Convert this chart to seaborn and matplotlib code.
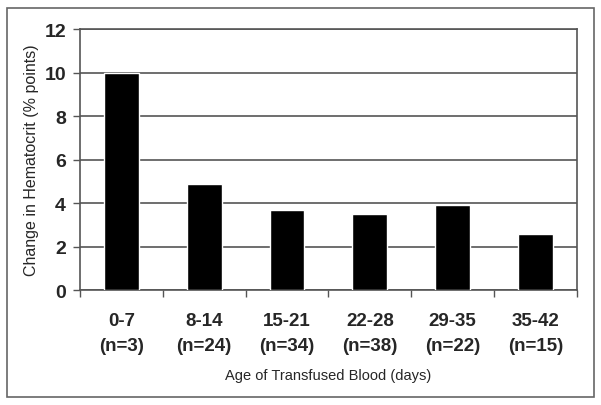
import numpy as np
import pandas as pd
import matplotlib
matplotlib.use("Agg")
import matplotlib.pyplot as plt
import seaborn as sns
from matplotlib.patches import Rectangle

age_groups = ["0-7", "8-14", "15-21", "22-28", "29-35", "35-42"]
n_counts = [3, 24, 34, 38, 22, 15]
hct_change = [10.0, 4.9, 3.7, 3.5, 3.9, 2.6]

labels = [f"{a}\n(n={n})" for a, n in zip(age_groups, n_counts)]
df = pd.DataFrame({"age": labels, "change": hct_change})

sns.set_style("white")
plt.rcParams['font.family'] = ['Liberation Sans', 'DejaVu Sans']

fig = plt.figure(figsize=(6.01, 4.06), dpi=100)
ax = fig.add_axes([0.133, 0.283, 0.827, 0.643])

sns.barplot(data=df, x="age", y="change", color="black", width=0.42,
            saturation=1, ax=ax, zorder=3)

ax.set_ylim(0, 12)
ax.set_xlim(-0.5, len(labels) - 0.5)
ax.set_yticks(range(0, 13, 2))
ax.yaxis.grid(True, color="#555555", linewidth=1.2, zorder=0)
ax.set_axisbelow(True)

# ticks between the categories
ax.set_xticks(np.arange(-0.5, len(labels), 1.0))
ax.set_xticklabels([])
ax.set_xticks(range(len(labels)), minor=True)
ax.set_xticklabels(labels, minor=True, fontsize=13.5, fontweight="bold",
                   linespacing=1.6)
ax.tick_params(axis="x", which="minor", length=0, pad=16)
ax.tick_params(axis="x", which="major", length=5, width=1, color="#555555",
               direction="out", bottom=True)
ax.tick_params(axis="y", length=5, width=1, color="#555555", left=True,
               labelsize=14, pad=5)
for t in ax.get_yticklabels():
    t.set_fontweight("bold")

for side in ["left", "right", "top", "bottom"]:
    ax.spines[side].set_visible(True)
    ax.spines[side].set_color("#555555")
    ax.spines[side].set_linewidth(1.2)

ax.set_xlabel("Age of Transfused Blood (days)", fontsize=10.5, labelpad=10)
ax.set_ylabel("Change in Hematocrit (% points)", fontsize=11.5, labelpad=4)

fig.patches.append(Rectangle((0.012, 0.02), 0.976, 0.958, transform=fig.transFigure,
                             fill=False, edgecolor="#666666", linewidth=1.2))

fig.savefig("out.png", dpi=100)
